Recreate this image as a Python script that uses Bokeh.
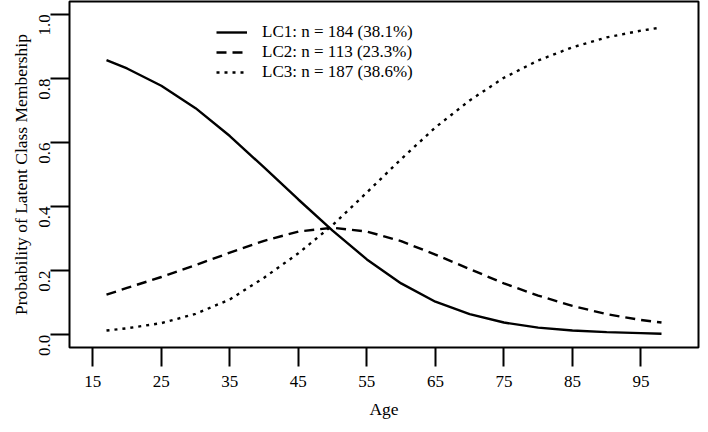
from bokeh.plotting import figure
from bokeh.models import Range1d, FixedTicker, Legend, LegendItem, NumeralTickFormatter
from bokeh.embed import file_html
from bokeh.resources import INLINE
import math

# Values
age = [17, 20, 25, 30, 35, 40, 45, 50, 55, 60, 65, 70, 75, 80, 85, 90, 95, 98]
lc1 = [0.857, 0.831, 0.777, 0.707, 0.620, 0.522, 0.422, 0.325, 0.235, 0.160,
       0.103, 0.064, 0.038, 0.022, 0.013, 0.008, 0.005, 0.003]
lc2 = [0.125, 0.146, 0.180, 0.217, 0.256, 0.293, 0.322, 0.334, 0.322, 0.292,
       0.250, 0.205, 0.160, 0.122, 0.090, 0.064, 0.046, 0.038]
lc3 = [0.013, 0.020, 0.036, 0.065, 0.110, 0.178, 0.254, 0.342, 0.444, 0.548,
       0.647, 0.731, 0.802, 0.856, 0.897, 0.928, 0.949, 0.959]
series_labels = ["LC1: n = 184 (38.1%)", "LC2: n = 113 (23.3%)", "LC3: n = 187 (38.6%)"]
x_ticks = [15, 25, 35, 45, 55, 65, 75, 85, 95]
y_ticks = [0.0, 0.2, 0.4, 0.6, 0.8, 1.0]

FONT = "Liberation Serif"

p = figure(width=700, height=424, output_backend="svg", toolbar_location=None,
           x_range=Range1d(11.6, 103.4), y_range=Range1d(-0.04, 1.04),
           min_border_left=69, min_border_right=2, min_border_top=1,
           min_border_bottom=77)

p.background_fill_color = "white"
p.border_fill_color = "white"
p.outline_line_color = "black"
p.outline_line_width = 2
p.xgrid.visible = False
p.ygrid.visible = False

r1 = p.line(age, lc1, line_color="black", line_width=2.4)
r2 = p.line(age, lc2, line_color="black", line_width=2.4, line_dash="10 6")
r3 = p.line(age, lc3, line_color="black", line_width=2.4, line_dash="3 5")

for ax in (p.xaxis[0], p.yaxis[0]):
    ax.axis_line_color = None
    ax.major_tick_out = 19
    ax.major_tick_in = 0
    ax.major_tick_line_width = 2
    ax.major_tick_line_color = "black"
    ax.minor_tick_line_color = None
    ax.major_label_text_font = FONT
    ax.major_label_text_font_size = "17px"
    ax.major_label_text_color = "black"
    ax.axis_label_text_font = FONT
    ax.axis_label_text_font_size = "17.5px"
    ax.axis_label_text_font_style = "normal"
    ax.axis_label_text_color = "black"

p.xaxis.ticker = FixedTicker(ticks=x_ticks)
p.yaxis.ticker = FixedTicker(ticks=y_ticks)
p.yaxis.formatter = NumeralTickFormatter(format="0.0")
p.xaxis.axis_label = "Age"
p.yaxis.axis_label = "Probability of Latent Class Membership"
p.yaxis.major_label_orientation = math.pi / 2
p.xaxis.major_label_standoff = 9
p.xaxis.axis_label_standoff = 9
p.yaxis.major_label_standoff = 6
p.yaxis.axis_label_standoff = 0

legend = Legend(items=[LegendItem(label=series_labels[0], renderers=[r1]),
                       LegendItem(label=series_labels[1], renderers=[r2]),
                       LegendItem(label=series_labels[2], renderers=[r3])],
                location=(147, 265))
legend.border_line_alpha = 0
legend.background_fill_alpha = 0
legend.padding = 0
legend.margin = 0
legend.spacing = 0
legend.glyph_width = 31
legend.glyph_height = 18
legend.label_height = 18
legend.label_standoff = 15
legend.label_text_font = FONT
legend.label_text_font_size = "17px"
legend.label_text_color = "black"
p.add_layout(legend, "center")

open("out.html", "w").write(file_html(p, INLINE))
